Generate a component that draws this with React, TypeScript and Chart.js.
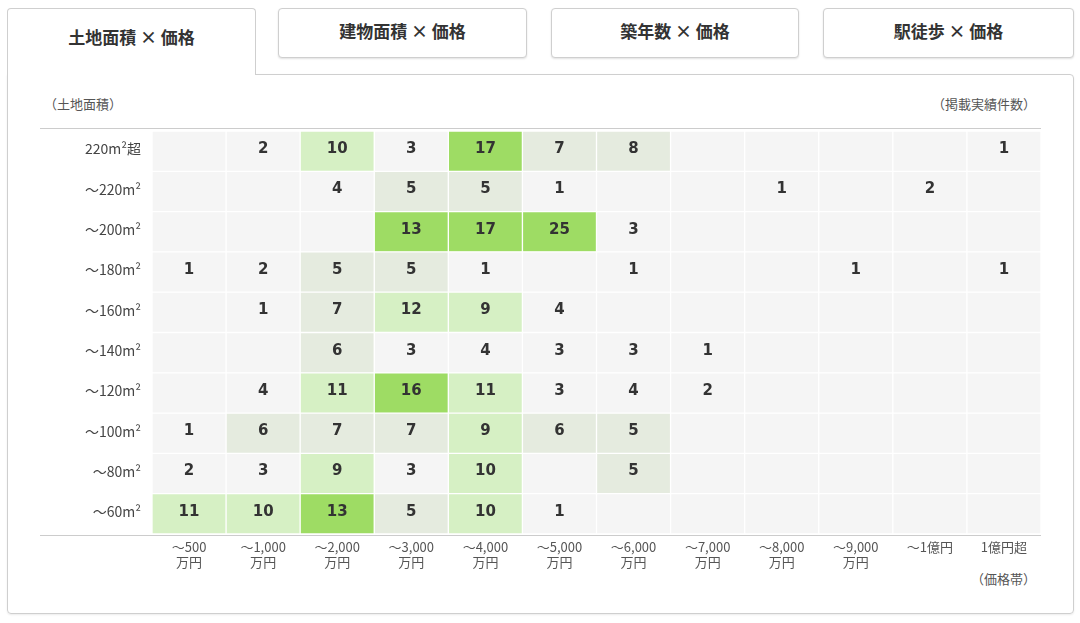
import React, { useEffect, useRef } from "react";
import { Chart, registerables } from "chart.js";

Chart.register(...registerables);

// Price bands (x axis), multi-line tick labels
const PRICE_LABELS: string[][] = [
  ["～500", "万円"],
  ["～1,000", "万円"],
  ["～2,000", "万円"],
  ["～3,000", "万円"],
  ["～4,000", "万円"],
  ["～5,000", "万円"],
  ["～6,000", "万円"],
  ["～7,000", "万円"],
  ["～8,000", "万円"],
  ["～9,000", "万円"],
  ["～1億円"],
  ["1億円超"],
];

// Land-area bands (y axis), bottom to top
const AREA_LABELS: string[] = [
  "～60m²",
  "～80m²",
  "～100m²",
  "～120m²",
  "～140m²",
  "～160m²",
  "～180m²",
  "～200m²",
  "～220m²",
  "220m²超",
];

// Listing counts per land-area row, one value per price band
const AREA_60 = [11, 10, 13, 5, 10, 1, 0, 0, 0, 0, 0, 0];
const AREA_80 = [2, 3, 9, 3, 10, 0, 5, 0, 0, 0, 0, 0];
const AREA_100 = [1, 6, 7, 7, 9, 6, 5, 0, 0, 0, 0, 0];
const AREA_120 = [0, 4, 11, 16, 11, 3, 4, 2, 0, 0, 0, 0];
const AREA_140 = [0, 0, 6, 3, 4, 3, 3, 1, 0, 0, 0, 0];
const AREA_160 = [0, 1, 7, 12, 9, 4, 0, 0, 0, 0, 0, 0];
const AREA_180 = [1, 2, 5, 5, 1, 0, 1, 0, 0, 1, 0, 1];
const AREA_200 = [0, 0, 0, 13, 17, 25, 3, 0, 0, 0, 0, 0];
const AREA_220 = [0, 0, 4, 5, 5, 1, 0, 0, 1, 0, 2, 0];
const AREA_220_OVER = [0, 2, 10, 3, 17, 7, 8, 0, 0, 0, 0, 1];

const ROWS: number[][] = [
  AREA_60,
  AREA_80,
  AREA_100,
  AREA_120,
  AREA_140,
  AREA_160,
  AREA_180,
  AREA_200,
  AREA_220,
  AREA_220_OVER,
];

const TABS = ["土地面積 × 価格", "建物面積 × 価格", "築年数 × 価格", "駅徒歩 × 価格"];

function cellColor(v: number): string {
  if (v >= 13) return "#9edc64";
  if (v >= 9) return "#d6f0c4";
  if (v >= 5) return "#e5ebdf";
  return "#f5f5f5";
}

const cellLabels = {
  id: "cellLabels",
  afterDatasetsDraw(chart: any) {
    const ctx = chart.ctx;
    ctx.save();
    ctx.font = 'bold 15px "DejaVu Sans"';
    ctx.textAlign = "center";
    ctx.textBaseline = "middle";
    ctx.fillStyle = "#333333";
    chart.data.datasets.forEach((_ds: any, di: number) => {
      const meta = chart.getDatasetMeta(di);
      const counts = ROWS[di];
      meta.data.forEach((el: any, i: number) => {
        const v = counts[i];
        if (!v) return;
        const p = el.getProps(["x", "y", "base"], true);
        ctx.fillText(String(v), p.x, (p.y + p.base) / 2 - 2);
      });
    });
    ctx.restore();
  },
};

export default function App() {
  const canvasRef = useRef<HTMLCanvasElement | null>(null);

  useEffect(() => {
    document.body.style.margin = "0";
    const canvas = canvasRef.current;
    if (!canvas) return;
    const chart = new Chart(canvas, {
      type: "bar",
      data: {
        labels: PRICE_LABELS as any,
        datasets: ROWS.map((row, ri) => ({
          label: AREA_LABELS[ri],
          data: row.map(() => 1),
          backgroundColor: row.map((v) => cellColor(v)),
          borderColor: "#ffffff",
          borderWidth: 1,
          borderSkipped: false as any,
          barPercentage: 1,
          categoryPercentage: 1,
        })),
      },
      options: {
        animation: false,
        responsive: false,
        maintainAspectRatio: false,
        layout: { padding: { top: 3, right: 4, bottom: 0, left: 0 } },
        plugins: {
          legend: { display: false },
          tooltip: { enabled: false },
        },
        scales: {
          x: {
            type: "category",
            stacked: true,
            grid: { display: false, drawTicks: false },
            border: { display: false },
            ticks: {
              color: "#555555",
              font: { family: '"Noto Sans CJK JP"', size: 13, lineHeight: 1.15 },
              padding: 6,
              maxRotation: 0,
              autoSkip: false,
            },
            afterFit: (s: any) => {
              s.height = 54;
              s.paddingLeft = 0;
              s.paddingRight = 0;
            },
          },
          y: {
            type: "linear",
            stacked: true,
            min: 0,
            max: AREA_LABELS.length,
            grid: { display: false, drawTicks: false },
            border: { display: false },
            afterBuildTicks: (s: any) => {
              s.ticks = AREA_LABELS.map((_l, i) => ({ value: i + 0.5 }));
            },
            ticks: {
              color: "#444444",
              font: { family: '"Noto Sans CJK JP"', size: 14 },
              padding: 11,
              labelOffset: -2,
              autoSkip: false,
              callback: (_v: any, i: number) => AREA_LABELS[i],
            },
            afterFit: (s: any) => {
              s.width = 112;
              s.paddingTop = 0;
              s.paddingBottom = 0;
            },
          },
        },
      },
      plugins: [cellLabels],
    });
    return () => chart.destroy();
  }, []);

  const font = '"Noto Sans CJK JP", "Noto Sans", sans-serif';
  const inactiveTabs = [
    { left: 278, width: 249 },
    { left: 551, width: 248 },
    { left: 823, width: 251 },
  ];

  return (
    <div
      style={{
        position: "fixed",
        left: 0,
        top: 0,
        width: 1080,
        height: 623,
        background: "#ffffff",
        fontFamily: font,
        color: "#333",
        overflow: "hidden",
      }}
    >
      {/* panel */}
      <div
        style={{
          position: "absolute",
          left: 7,
          top: 74,
          width: 1067,
          height: 540,
          border: "1px solid #cfcfcf",
          borderRadius: "0 4px 4px 4px",
          boxSizing: "border-box",
          boxShadow: "0 1px 2px rgba(0,0,0,0.08)",
        }}
      />
      {/* active tab */}
      <div
        style={{
          position: "absolute",
          left: 7,
          top: 8,
          width: 249,
          height: 67,
          border: "1px solid #cfcfcf",
          borderBottom: "none",
          borderRadius: "4px 4px 0 0",
          boxSizing: "border-box",
          background: "#ffffff",
          display: "flex",
          justifyContent: "center",
          paddingTop: 15,
          fontSize: 17,
          fontWeight: 700,
          color: "#333",
        }}
      >
        {TABS[0]}
      </div>
      {inactiveTabs.map((t, i) => (
        <div
          key={i}
          style={{
            position: "absolute",
            left: t.left,
            top: 8,
            width: t.width,
            height: 50,
            border: "1px solid #cfcfcf",
            borderRadius: 4,
            boxSizing: "border-box",
            background: "#ffffff",
            boxShadow: "0 1px 2px rgba(0,0,0,0.12)",
            display: "flex",
            alignItems: "center",
            justifyContent: "center",
            paddingBottom: 6,
            fontSize: 17,
            fontWeight: 700,
            color: "#333",
          }}
        >
          {TABS[i + 1]}
        </div>
      ))}
      {/* header texts */}
      <div style={{ position: "absolute", left: 44, top: 94, fontSize: 13, color: "#555" }}>（土地面積）</div>
      <div style={{ position: "absolute", right: 1080 - 1036, top: 94, fontSize: 13, color: "#555" }}>（掲載実績件数）</div>
      <div style={{ position: "absolute", right: 1080 - 1036, top: 569, fontSize: 13, color: "#555" }}>（価格帯）</div>
      {/* rules */}
      <div style={{ position: "absolute", left: 40, top: 128, width: 1001, height: 1, background: "#cccccc" }} />
      <div style={{ position: "absolute", left: 40, top: 535, width: 1001, height: 1, background: "#cccccc" }} />
      <canvas
        ref={canvasRef}
        width={1005}
        height={460}
        style={{ position: "absolute", left: 40, top: 128, width: 1005, height: 460 }}
      />
    </div>
  );
}
